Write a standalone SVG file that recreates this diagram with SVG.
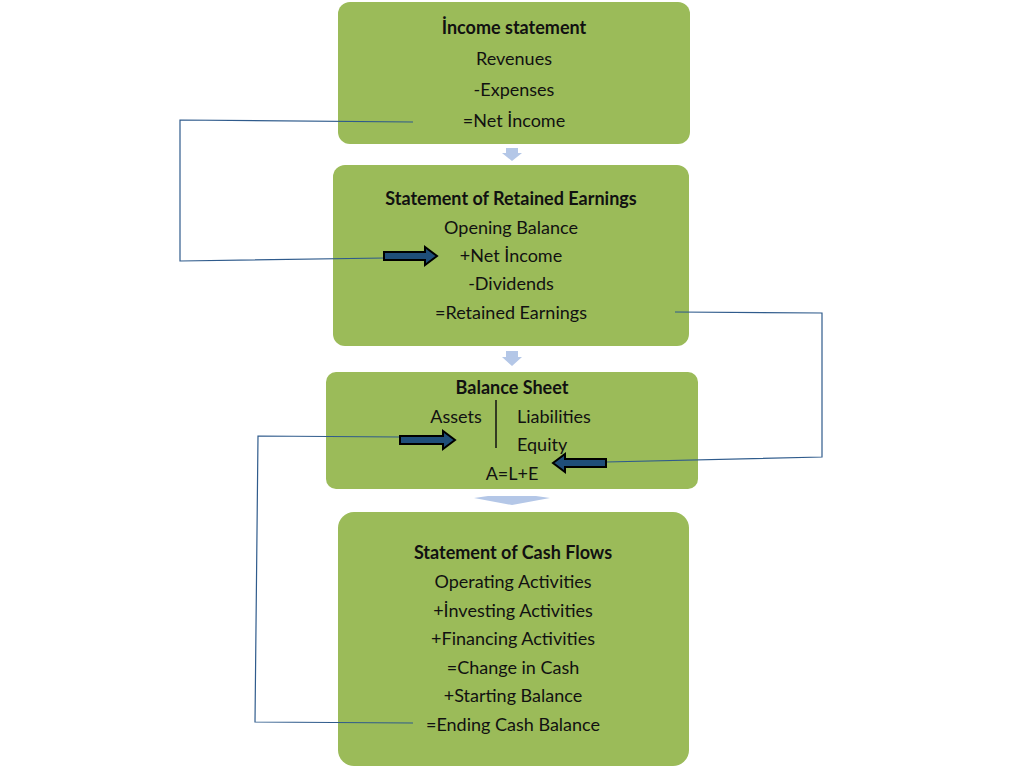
<svg xmlns="http://www.w3.org/2000/svg" width="1024" height="768" viewBox="0 0 1024 768">
<style>
.box{fill:#9BBB59}
text{font-family:Lato,"Open Sans",sans-serif;font-size:18px;fill:#111;text-anchor:middle}
.b{font-weight:bold}
.ln{fill:none;stroke:#2F5B8C;stroke-width:1.2}
.ba{fill:#1F4E79;stroke:#000;stroke-width:2}
.sa{fill:#B4C7E7}
</style>
<rect width="1024" height="768" fill="#fff"/>
<g id="income"><rect class="box" x="338" y="2" width="352" height="142" rx="12"/>
<text x="514" y="34" class="b">İncome statement</text><text x="514" y="65">Revenues</text><text x="514" y="96">-Expenses</text><text x="514" y="127">=Net İncome</text></g>
<g id="retained"><rect class="box" x="333" y="165" width="356" height="181" rx="12"/>
<text x="511" y="205" class="b">Statement of Retained  Earnings</text><text x="511" y="234">Opening Balance</text><text x="511" y="262">+Net İncome</text><text x="511" y="290">-Dividends</text><text x="511" y="319">=Retained Earnings</text></g>
<g id="balance"><rect class="box" x="326" y="372" width="372" height="117" rx="10"/>
<text x="512" y="394" class="b">Balance Sheet</text><text x="456" y="423">Assets</text><text x="517" y="423" style="text-anchor:start">Liabilities</text><text x="517" y="451" style="text-anchor:start">Equity</text><text x="512" y="480">A=L+E</text>
<line x1="496" y1="400" x2="496" y2="448" stroke="#111" stroke-width="1.5"/></g>
<g id="cashflows"><rect class="box" x="338" y="512" width="351" height="254" rx="16"/>
<text x="513" y="559" class="b">Statement of Cash Flows</text><text x="513" y="588">Operating Activities</text><text x="513" y="617">+İnvesting Activities</text><text x="513" y="645">+Financing Activities</text><text x="513" y="674">=Change in Cash</text><text x="513" y="702">+Starting Balance</text><text x="513" y="731">=Ending Cash Balance</text></g>
<g id="connectors">
<path class="sa" d="M506,148 H518 V153 H522 L512,161 L502,153 H506 Z"/>
<path class="sa" d="M506,351 H518 V357 H522 L512,366 L502,357 H506 Z"/>
<path class="sa" d="M488,496 H536 L550,498 L512,505 L474,498 Z"/>
<polyline class="ln" points="413,122 180,120 180,261 385,258"/>
<polyline class="ln" points="675,312 822,313 822,457 606,462"/>
<polyline class="ln" points="413,723 255,722 258,436 400,437"/>
<path class="ba" d="M384,252 H425 V247 L437,256 L425,265 V260 H384 Z"/>
<path class="ba" d="M400,436 H443 V431 L455,440 L443,449 V444 H400 Z"/>
<path class="ba" d="M606,459 H565 V454 L553,463 L565,472 V467 H606 Z"/>
</g>
</svg>
